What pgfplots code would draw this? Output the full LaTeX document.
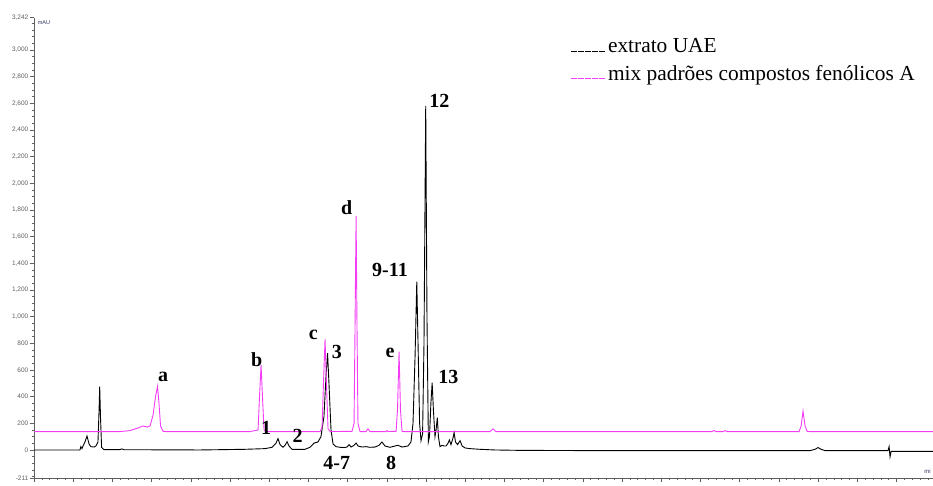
\documentclass[border=0pt]{standalone}
\usepackage{pgfplots}
\pgfplotsset{compat=1.18}
\usepackage{fontspec}
\setmainfont{Liberation Serif}
\newfontfamily\axfont{Liberation Sans}
\definecolor{pinkline}{RGB}{245,60,245}
\definecolor{axgray}{RGB}{95,95,95}
\definecolor{unitblue}{RGB}{50,50,100}
\begin{document}
\begin{tikzpicture}
\begin{axis}[
 scale only axis, width=899pt, height=460.4pt,
 at={(0pt,0pt)}, anchor=south west,
 xmin=0, xmax=57.33, ymin=-211, ymax=3242,
 axis lines*=left,
 axis line style={axgray, line width=0.9pt},
 tick align=outside,
 tick style={axgray, line width=0.5pt},
 major tick length=4pt, minor tick length=2pt,
 xtick={0,2.5,...,57.5}, xticklabels={},
 minor x tick num=4,
 ytick={-211,0,200,400,600,800,1000,1200,1400,1600,1800,2000,2200,2400,2600,2800,3000,3242},
 yticklabels={{-211},0,200,400,600,800,{1,000},{1,200},{1,400},{1,600},{1,800},{2,000},{2,200},{2,400},{2,600},{2,800},{3,000},{3,242}},
 minor ytick={-200,-150,...,3200},
 yticklabel style={font=\axfont\fontsize{6.5}{7}\selectfont, text=axgray, inner sep=1.5pt},
 legend cell align=left,
 legend style={draw=none, fill=none, at={(rel axis cs:0.596,0.96)}, anchor=north west,
   font=\fontsize{21.4}{24}\selectfont, row sep=7.5pt, inner sep=0pt},
 legend image code/.code={\draw[#1, line width=1pt, dash pattern=on 6pt off 1pt] (0pt,-5pt)--(35pt,-5pt);},
]
% extrato UAE
\addplot[black, line width=0.9pt] coordinates {
(0,0) (2.93,0) (2.99,25) (3.06,10) (3.12,28) (3.25,60) (3.38,105) (3.51,45) (3.63,25)
(3.83,22) (3.95,30) (4.08,60) (4.15,300) (4.19,475) (4.24,250) (4.31,20) (4.46,2)
(5.48,3) (5.61,8) (5.74,2) (10.59,0) (13.46,5) (14.73,10) (15.18,20) (15.43,50)
(15.56,85) (15.69,40) (15.88,20) (16.01,35) (16.14,62) (16.26,30) (16.45,5) (17.28,5)
(17.60,20) (17.86,52) (18.11,60) (18.30,100) (18.49,250) (18.62,550) (18.72,727)
(18.81,500) (18.94,150) (19.07,45) (19.26,25) (19.52,20) (19.77,18) (19.96,22)
(20.09,40) (20.22,22) (20.41,35) (20.54,52) (20.66,30) (20.92,22) (21.17,25) (21.43,20)
(21.75,22) (22.00,35) (22.19,60) (22.38,30) (22.70,20) (22.96,28) (23.21,35) (23.47,22)
(23.85,30) (24.04,60) (24.17,200) (24.30,700) (24.41,1262) (24.49,800) (24.59,200)
(24.68,70) (24.78,120) (24.87,800) (24.98,2580) (25.06,1000) (25.15,62) (25.22,100)
(25.31,350) (25.39,505) (25.47,300) (25.57,100) (25.64,150) (25.72,243) (25.79,100)
(25.89,25) (26.02,35) (26.15,30) (26.28,30) (26.40,50) (26.49,75) (26.59,40) (26.72,90)
(26.79,130) (26.88,60) (27.01,40) (27.17,70) (27.30,30) (27.49,15) (27.81,10) (28.44,5)
(29.40,0) (30.99,-3) (36.10,-5) (42.47,-5) (47.58,-5) (49.49,-5) (49.81,5) (50.00,18)
(50.19,5) (50.45,-5) (54.46,-5) (54.53,25) (54.59,-52) (54.66,-10) (57.33,-10)
};
\addlegendentry{extrato UAE}
% mix padroes
\addplot[pinkline, line width=0.9pt] coordinates {
(0,138) (5.48,138) (6.12,145) (6.63,165) (6.95,180) (7.21,172) (7.40,180) (7.59,260)
(7.75,400) (7.88,478) (7.97,350) (8.07,180) (8.23,140) (8.40,138)
(13.78,138) (14.29,150) (14.38,400) (14.48,637) (14.57,400) (14.67,150) (14.80,138)
(18.24,138) (18.37,170) (18.46,500) (18.56,830) (18.65,500) (18.75,160) (18.88,138)
(20.28,140) (20.41,200) (20.47,900) (20.54,1755) (20.60,900) (20.66,200) (20.79,138)
(21.17,138) (21.30,158) (21.43,138) (22.45,138) (22.51,146) (22.58,138)
(23.09,140) (23.18,300) (23.28,737) (23.37,300) (23.47,140) (23.60,138)
(29.08,138) (29.27,158) (29.46,138) (43.24,138) (43.37,146) (43.49,138)
(43.94,138) (44.07,145) (44.20,138) (48.79,138) (48.92,180) (49.04,292) (49.17,180)
(49.30,140) (49.45,138) (57.33,138)
};
\addlegendentry{mix padrões compostos fenólicos A}
\begin{scope}[every node/.style={font=\fontsize{20}{20}\selectfont\bfseries, inner sep=0pt}]
\node at (axis cs:8.23,547) {a};
\node at (axis cs:14.20,675) {b};
\node at (axis cs:17.81,862) {c};
\node at (axis cs:19.31,737) {3};
\node at (axis cs:19.94,1815) {d};
\node at (axis cs:22.70,727) {e};
\node at (axis cs:22.70,1350) {9-11};
\node at (axis cs:25.85,2618) {12};
\node at (axis cs:26.42,550) {13};
\node at (axis cs:14.80,163) {1};
\node at (axis cs:16.81,105) {2};
\node at (axis cs:19.31,-95) {4-7};
\node at (axis cs:22.77,-95) {8};
\end{scope}
\node[font=\axfont\fontsize{5.5}{6}\selectfont, text=unitblue, anchor=west, inner sep=0pt] at (rel axis cs:0.004,0.99) {mAU};
\node[font=\axfont\fontsize{6}{6}\selectfont, text=unitblue, inner sep=0pt] at (rel axis cs:0.994,0.014) {mi};
\end{axis}
\pgfresetboundingbox
\path[use as bounding box] (-34pt,-6.9pt) rectangle (899pt,478.1pt);
\end{tikzpicture}
\end{document}
